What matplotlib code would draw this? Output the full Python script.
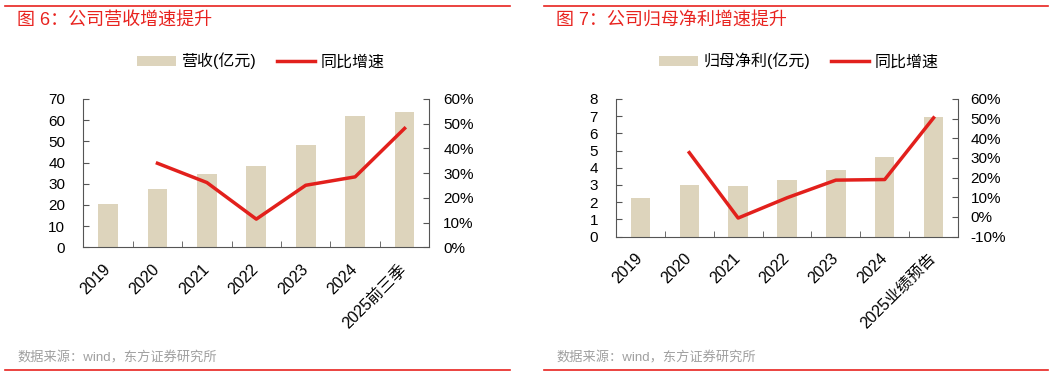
import numpy as np
import matplotlib.pyplot as plt
from matplotlib.patches import Patch
from matplotlib.lines import Line2D
from matplotlib.ticker import FuncFormatter, MultipleLocator

plt.rcParams['font.family'] = ['Liberation Sans', 'Noto Sans CJK SC', 'DejaVu Sans']

# ---------- data ----------
years_rev = ["2019", "2020", "2021", "2022", "2023", "2024", "2025前三季"]
revenue = [20.3, 27.4, 34.5, 38.4, 48.2, 62.0, 63.9]           # 亿元
revenue_yoy = [np.nan, 34.0, 26.2, 11.4, 25.1, 28.5, 48.1]      # %

years_np = ["2019", "2020", "2021", "2022", "2023", "2024", "2025业绩预告"]
net_profit = [2.25, 2.97, 2.95, 3.28, 3.89, 4.63, 6.95]         # 亿元
net_profit_yoy = [np.nan, 32.7, -0.6, 9.7, 18.7, 19.0, 50.4]    # %

BAR_C = "#DDD4BC"
LINE_C = "#E2201C"
RED = "#E8231F"
AXIS_C = "#555555"

fig = plt.figure(figsize=(10.61, 3.76), dpi=100)
W, H = 1061, 376


def fx(px):
    return px / W


def fy(py):
    return 1 - py / H


def panel(x0, x1, y0, y1, cats, bars, yoy, bar_lim, bar_step, pct_lim,
          lpad, rpad, title, tx, bar_label, leg_x):
    ax = fig.add_axes([fx(x0), fy(y1), fx(x1 - x0), (y1 - y0) / H])
    x = np.arange(len(cats))
    ax.bar(x, bars, width=0.4, color=BAR_C, zorder=2)
    ax.set_xlim(-0.5, len(cats) - 0.5)
    ax.set_ylim(*bar_lim)
    ax.yaxis.set_major_locator(MultipleLocator(bar_step))
    ax.set_xticks(x)
    ax.set_xticklabels(cats, rotation=45, ha='right', va='center',
                       rotation_mode='anchor', fontsize=11.5)
    ax.set_xticks(np.arange(0.5, len(cats) - 1, 1), minor=True)
    ax.tick_params(axis='x', which='major', length=0, pad=14)
    ax.tick_params(axis='x', which='minor', direction='in', length=4,
                   color=AXIS_C)
    ax.tick_params(axis='y', direction='in', length=4, color=AXIS_C,
                   labelsize=11, pad=lpad)
    for s in ['top', 'right']:
        ax.spines[s].set_visible(False)
    for s in ['left', 'bottom']:
        ax.spines[s].set_color(AXIS_C)
        ax.spines[s].set_linewidth(0.8)

    ax2 = ax.twinx()
    ax2.plot(x, yoy, color=LINE_C, lw=2.5, zorder=3)
    ax2.set_ylim(*pct_lim)
    ax2.yaxis.set_major_locator(MultipleLocator(10))
    ax2.yaxis.set_major_formatter(FuncFormatter(lambda v, p: f"{v:.0f}%"))
    ax2.tick_params(axis='y', direction='in', length=4, color=AXIS_C,
                    labelsize=11, pad=rpad)
    for s in ['top', 'left', 'bottom']:
        ax2.spines[s].set_visible(False)
    ax2.spines['right'].set_color(AXIS_C)
    ax2.spines['right'].set_linewidth(0.8)

    handles = [Patch(facecolor=BAR_C, edgecolor='none', label=bar_label),
               Line2D([], [], color=LINE_C, lw=2.5, label="同比增速")]
    fig.legend(handles=handles, loc='center', ncol=2, frameon=False,
               bbox_to_anchor=(fx(leg_x), fy(61)), fontsize=11.5,
               handlelength=2.4, handleheight=0.6, columnspacing=1.3,
               handletextpad=0.35)

    fig.text(fx(tx), fy(20), title, color=RED, fontsize=13,
             ha='left', va='center')
    fig.text(fx(tx), fy(358), "数据来源：wind，东方证券研究所",
             color="#A0A0A0", fontsize=9.5, ha='left', va='center')
    return ax


panel(83.3, 429.3, 99, 247.3, years_rev, revenue, revenue_yoy, (0, 70), 10,
      (0, 60), 13, 10, "图 6：公司营收增速提升", 17, "营收(亿元)", 261)
panel(616, 958, 99, 236.5, years_np, net_profit, net_profit_yoy, (0, 8), 1,
      (-10, 60), 13, 9, "图 7：公司归母净利增速提升", 556, "归母净利(亿元)", 799)

# red separator lines
for xa, xb in [(5, 510), (544, 1048)]:
    fig.add_artist(Line2D([fx(xa), fx(xb)], [fy(5.5), fy(5.5)],
                          color=RED, lw=1.2))
    fig.add_artist(Line2D([fx(xa), fx(xb)], [fy(370), fy(370)],
                          color=RED, lw=1.2))

fig.savefig("out.png", dpi=100)
